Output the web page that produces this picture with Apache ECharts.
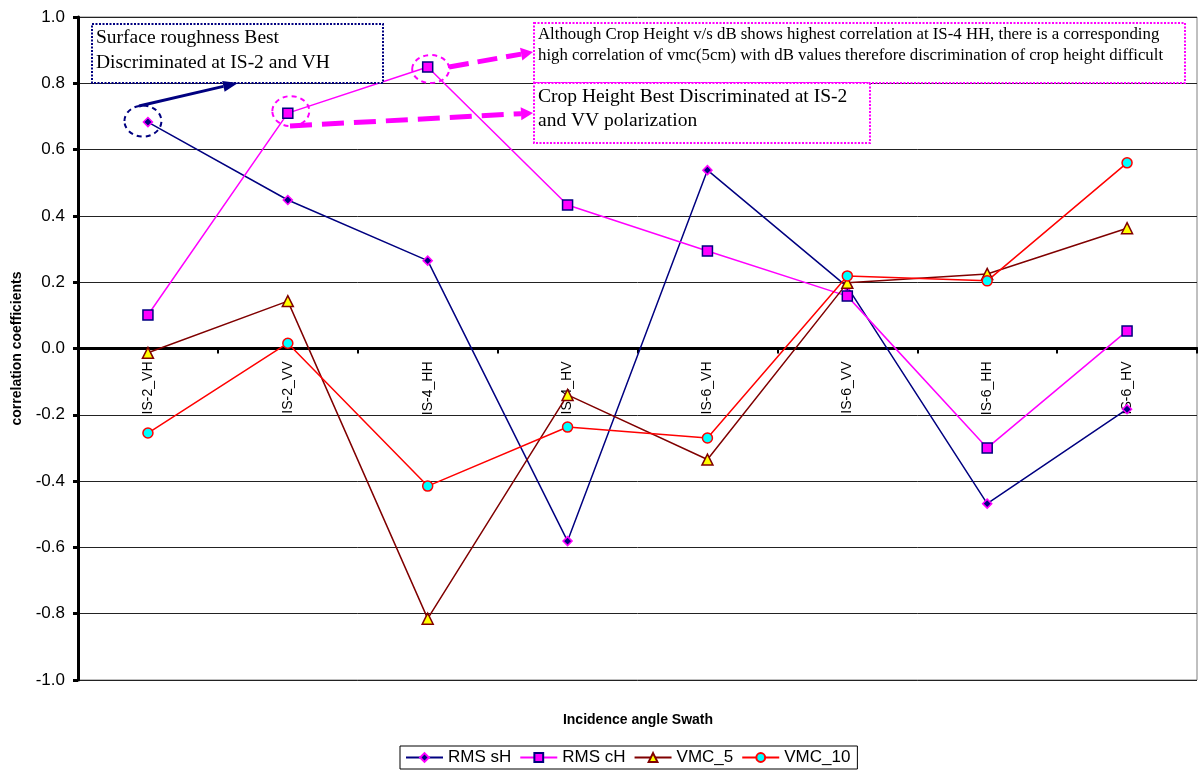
<!DOCTYPE html>
<html>
<head>
<meta charset="utf-8">
<script src="https://cdn.jsdelivr.net/npm/echarts@6/dist/echarts.min.js"></script>
<style>
  html, body { margin: 0; padding: 0; background: #fff; }
  #chart { width: 1198px; height: 774px; }
</style>
</head>
<body>
<div id="chart"></div>
<script>
// Incidence angle / swath combinations
const categories = ['IS-2_VH', 'IS-2_VV', 'IS-4_HH', 'IS-4_HV', 'IS-6_VH', 'IS-6_VV', 'IS-6_HH', 'IS-6_HV'];

// Correlation coefficients of backscatter (dB) with each field parameter
const rmsSH = [0.683, 0.448, 0.265, -0.581, 0.538, 0.186, -0.468, -0.183];
const rmsCH = [0.101, 0.710, 0.849, 0.433, 0.294, 0.158, -0.300, 0.053];
const vmc5  = [-0.013, 0.143, -0.815, -0.140, -0.335, 0.198, 0.225, 0.363];
const vmc10 = [-0.255, 0.016, -0.415, -0.237, -0.270, 0.219, 0.204, 0.560];

const yTicks = { min: -1.0, max: 1.0, step: 0.2 };

const W = 1198, H = 774;
const gridBox = { left: 78, right: 1, top: 17, bottom: 94 };
const gridHeight = H - gridBox.top - gridBox.bottom;
// the category axis sits on the zero line of the value axis
const zeroOffset = -gridHeight * (0 - yTicks.min) / (yTicks.max - yTicks.min);

const chart = echarts.init(document.getElementById('chart'));

function lineSeries(name, data, lineColor, symbol, size, fill, border) {
  return {
    name: name,
    type: 'line',
    data: data,
    symbol: symbol,
    symbolSize: size,
    showAllSymbol: true,
    animation: false,
    lineStyle: { color: lineColor, width: 1.5 },
    itemStyle: { color: fill, borderColor: border, borderWidth: 1.5 },
    emphasis: { disabled: true }
  };
}

const sans = 'Liberation Sans, Arial, sans-serif';

chart.setOption({
  animation: false,
  backgroundColor: '#fff',
  grid: Object.assign({ show: true, borderColor: '#808080', borderWidth: 1 }, gridBox),
  legend: {
    left: 400,
    top: 746,
    itemWidth: 37,
    itemHeight: 11,
    itemGap: 8,
    padding: [3, 7, 3, 5],
    borderColor: '#000',
    borderWidth: 1,
    textStyle: { fontFamily: sans, fontSize: 17, color: '#000' },
    data: ['RMS sH', 'RMS cH', 'VMC_5', 'VMC_10']
  },
  xAxis: {
    type: 'category',
    data: categories,
    boundaryGap: true,
    position: 'bottom',
    offset: zeroOffset,
    axisLine: { onZero: false, lineStyle: { color: '#000', width: 3 } },
    axisTick: { show: true, length: 5, lineStyle: { color: '#000', width: 2 } },
    axisLabel: {
      rotate: 90,
      margin: 13,
      interval: 0,
      fontFamily: sans,
      fontSize: 14,
      color: '#000'
    },
    splitLine: { show: false }
  },
  yAxis: {
    type: 'value',
    min: yTicks.min,
    max: yTicks.max,
    interval: yTicks.step,
    name: 'correlation coefficients',
    nameLocation: 'middle',
    nameRotate: 90,
    nameGap: 54,
    nameTextStyle: { fontFamily: sans, fontSize: 14, fontWeight: 'bold', color: '#000' },
    axisLine: { show: true, lineStyle: { color: '#000', width: 3 } },
    axisTick: { show: true, length: 5, lineStyle: { color: '#000', width: 3 } },
    axisLabel: {
      margin: 13,
      fontFamily: sans,
      fontSize: 17,
      color: '#000',
      formatter: v => v.toFixed(1)
    },
    splitLine: { show: true, lineStyle: { color: '#222', width: 1 } }
  },
  series: [
    lineSeries('RMS sH', rmsSH, '#000080', 'diamond', 9, '#000080', '#FF00FF'),
    lineSeries('RMS cH', rmsCH, '#FF00FF', 'rect', 10, '#FF00FF', '#000080'),
    lineSeries('VMC_5', vmc5, '#800000', 'triangle', 11, '#FFFF00', '#800000'),
    lineSeries('VMC_10', vmc10, '#FF0000', 'circle', 10, '#00FFFF', '#FF0000')
  ]
});

// Annotation layer: callout boxes, dashed rings around the highlighted points and arrows
const serif = 'Liberation Serif, Times New Roman, serif';
const px = (i, v) => chart.convertToPixel({ seriesIndex: 0 }, [i, v]);

function ring(i, v, color, dx, dy, ry) {
  const p = px(i, v);
  return {
    type: 'ellipse', silent: true, z: 100,
    shape: { cx: p[0] + dx, cy: p[1] + dy, rx: 18.5, ry: ry },
    style: { fill: null, stroke: color, lineWidth: 2, lineDash: [5, 4] }
  };
}

function arrow(x1, y1, x2, y2, color, width, dash, headLen, headW) {
  const ang = Math.atan2(y2 - y1, x2 - x1);
  const bx = x2 - headLen * Math.cos(ang), by = y2 - headLen * Math.sin(ang);
  const nx = -Math.sin(ang) * headW / 2, ny = Math.cos(ang) * headW / 2;
  return [
    {
      type: 'line', silent: true, z: 100,
      shape: { x1: x1, y1: y1, x2: bx, y2: by },
      style: { stroke: color, lineWidth: width, lineDash: dash }
    },
    {
      type: 'polygon', silent: true, z: 100,
      shape: { points: [[x2, y2], [bx + nx, by + ny], [bx - nx, by - ny]] },
      style: { fill: color }
    }
  ];
}

function box(x, y, w, h, color) {
  return {
    type: 'rect', silent: true, z: 99,
    shape: { x: x, y: y, width: w, height: h },
    style: { fill: '#fff', stroke: color, lineWidth: 2, lineDash: [2, 1.5] }
  };
}

function txt(x, y, s, size) {
  return {
    type: 'text', silent: true, z: 101,
    style: { x: x, y: y, text: s, font: size + 'px ' + serif, fill: '#000', textVerticalAlign: 'middle' }
  };
}

const g = [];
g.push(box(92, 24, 291, 59, '#000080'));
g.push(txt(96, 38, 'Surface roughness Best', 19.5));
g.push(txt(96, 63, 'Discriminated at IS-2 and VH', 19.5));

g.push(box(534, 23, 651, 60, '#FF00FF'));
g.push(txt(538, 35, 'Although Crop Height v/s dB shows highest correlation at IS-4 HH, there is a corresponding', 16.8));
g.push(txt(538, 56, 'high correlation of vmc(5cm) with dB values therefore discrimination of crop height difficult', 16.8));

g.push(box(534, 83, 336, 60, '#FF00FF'));
g.push(txt(538, 97, 'Crop Height Best Discriminated at IS-2', 19.5));
g.push(txt(538, 121, 'and VV polarization', 19.5));

g.push(ring(0, rmsSH[0], '#000080', -5, -1, 15.5));
g.push(ring(1, rmsCH[1], '#FF00FF', 3, -2, 15));
g.push(ring(2, rmsCH[2], '#FF00FF', 3, 2, 14));

g.push(...arrow(139, 106, 238, 83, '#000080', 3, null, 15, 11));
g.push(...arrow(449, 67, 533, 52, '#FF00FF', 5, [20, 9], 12, 13));
g.push(...arrow(290, 126, 533, 113, '#FF00FF', 5, [22, 10], 12, 13));

g.push({
  type: 'text', silent: true, z: 101,
  style: {
    x: 638, y: 720, text: 'Incidence angle Swath',
    font: 'bold 14px ' + sans, fill: '#000',
    textAlign: 'center', textVerticalAlign: 'middle'
  }
});

chart.setOption({ graphic: g });
</script>
</body>
</html>
